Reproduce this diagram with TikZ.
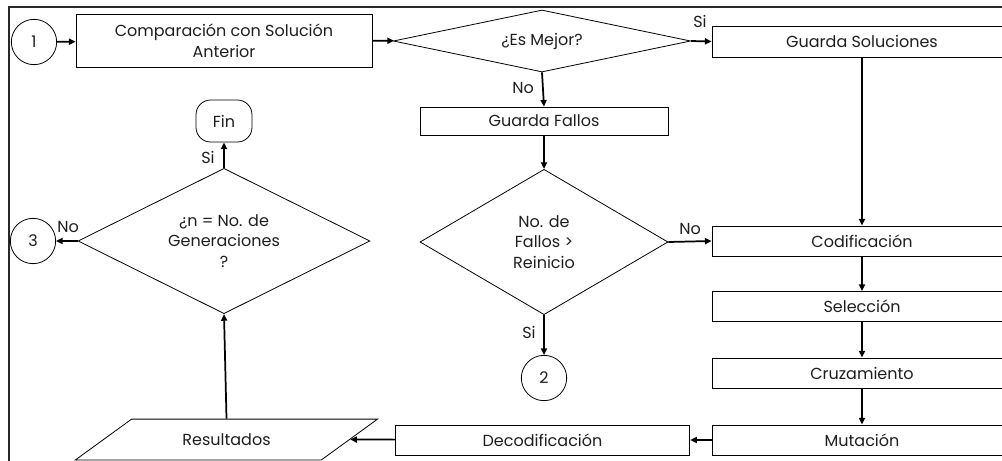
\documentclass[tikz,border=0pt]{standalone}
\usepackage{fontspec}
\setmainfont{Poppins}
\usetikzlibrary{shapes.geometric, arrows.meta, positioning}
\definecolor{framegray}{RGB}{40,40,40}
\definecolor{textgray}{RGB}{30,30,30}

\tikzset{
    procbox/.style={rectangle, draw, line width=0.6pt, minimum width=225pt, minimum height=22.5pt, align=center, inner sep=1pt},
    decision/.style={diamond, draw, line width=0.6pt, align=center, inner sep=0pt},
    connector/.style={circle, draw, line width=0.6pt, minimum size=34pt, inner sep=0pt},
    flow/.style={-{Triangle[length=5pt,width=4.5pt]}, line width=1.3pt},
    answer/.style={inner sep=1pt}
}

\begin{document}
\begin{tikzpicture}[x=0.75pt, y=-0.75pt, font=\fontsize{12}{15.5}\selectfont, text=textgray]
    \useasboundingbox (0,0) rectangle (1002,460);
    % Frame
    \draw[line width=1.2pt, framegray] (9,470) -- (9,7) -- (1010,7);

    % Start and comparison
    \node[connector] (c1) at (34,42) {1};
    \node[procbox, minimum width=222pt, minimum height=39.75pt] (compara) at (224,40.5) {Comparación con Solución\\Anterior};
    \node[decision, minimum width=223pt, minimum height=46.5pt, aspect=4.8] (mejor) at (542,41) {¿Es Mejor?};
    \node[procbox, minimum height=23.25pt] (gsol) at (862,41.5) {Guarda Soluciones};
    \node[procbox, minimum width=186pt, minimum height=21pt] (gfallos) at (544,121) {Guarda Fallos};
    \node[decision, minimum width=186pt, minimum height=109pt, aspect=1.7] (reinicio) at (544,242) {No. de\\Fallos >\\Reinicio};
    \node[connector] (c2) at (544,378) {2};

    % Genetic operators
    \node[procbox] (codif) at (862,241) {Codificación};
    \node[procbox] (selec) at (862,306.5) {Selección};
    \node[procbox] (cruza) at (862,373) {Cruzamiento};
    \node[procbox] (mutac) at (862,440) {Mutación};
    \node[procbox, minimum width=221pt] (decod) at (542.5,440) {Decodificación};
    \node[trapezium, draw, line width=0.6pt, trapezium left angle=36, trapezium right angle=144, minimum width=227pt, minimum height=23.25pt] (result) at (226.5,439.5) {Resultados};

    % Stop condition
    \node[decision, minimum width=219pt, minimum height=109pt, aspect=2] (generac) at (224,241) {¿n = No. de\\Generaciones\\?};
    \node[connector] (c3) at (33,241) {3};
    \node[draw, line width=0.6pt, rounded corners=11pt, minimum width=42pt, minimum height=31.5pt] (fin) at (224,121) {Fin};

    % Answers
    \node[answer] (siMejor) at (700,21) {Si};
    \node[answer] (noMejor) at (523,88) {No};
    \node[answer] (noReinicio) at (690,229) {No};
    \node[answer] (siReinicio) at (529,332) {Si};
    \node[answer] (siGen) at (208,157) {Si};
    \node[answer] (noGen) at (68,227) {No};

    % Flow
    \draw[flow] (c1) -- (compara);
    \draw[flow] (compara) -- (mejor);
    \draw[flow] (mejor.east) -- (gsol.west);
    \draw[flow] (mejor.south) -- (gfallos.north);
    \draw[flow] (gfallos) -- (reinicio.north);
    \draw[flow] (reinicio.east) -- (codif.west);
    \draw[flow] (reinicio.south) -- (c2);
    \draw[flow] (gsol) -- (codif);
    \foreach \a/\b in {codif/selec, selec/cruza, cruza/mutac}
        \draw[flow] (\a) -- (\b);
    \draw[flow] (mutac) -- (decod);
    \draw[flow] (decod) -- (result.east);
    \draw[flow] (result.north) -- (generac.south);
    \draw[flow] (generac.north) -- (fin.south);
    \draw[flow] (generac.west) -- (c3);
\end{tikzpicture}
\end{document}
